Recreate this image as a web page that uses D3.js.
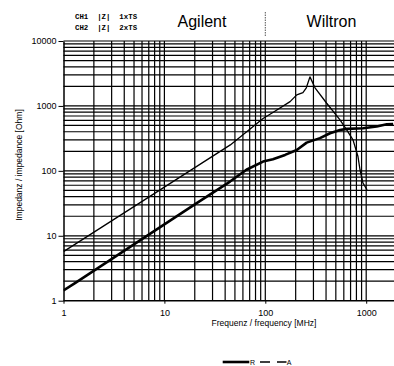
<!DOCTYPE html>
<html>
<head>
<meta charset="utf-8">
<script src="https://cdn.jsdelivr.net/npm/d3@7"></script>
<style>
  body { margin: 0; background: #fff; }
  svg { display: block; font-family: "Liberation Sans", Arial, sans-serif; }
</style>
</head>
<body>
<svg id="chart" width="394" height="366"></svg>
<script>
// ---- data ----
const xTicks = [1, 10, 100, 1000];
const yTicks = [1, 10, 100, 1000, 10000];
const headerLines = ["CH1  |Z|  1xTS", "CH2  |Z|  2xTS"];
const regionLabels = ["Agilent", "Wiltron"];
const seriesNames = ["R", "A"];

const freqR = [1, 1.3, 20.9, 44.7, 65, 95, 119, 157, 205, 257, 348, 438, 550, 641, 929, 1270, 1600, 1850];
const zR    = [1.44, 1.87, 31.8, 68.4, 104, 139, 151, 176, 210, 272, 319, 380, 427, 443, 453, 481, 523, 528];

const freqA = [1, 6.4, 45, 95, 120, 176, 205, 236, 255, 277, 311, 406, 550, 641, 740, 829, 868, 929, 1020];
const zA    = [5.7, 36, 251, 640, 800, 1165, 1480, 1600, 1900, 2800, 1900, 1100, 610, 427, 300, 166, 104, 65, 51];

// ---- layout ----
const W = 394, H = 366;
const mLeft = 63.5, mTop = 41, mBottom = 300.7;
const decadeX = 100.9;
const x = d3.scaleLog().domain([1, 2000]).range([mLeft, mLeft + decadeX * Math.log10(2000)]);
const y = d3.scaleLog().domain([1, 10000]).range([mBottom, mTop]);

const svg = d3.select("#chart");

svg.append("defs").append("clipPath").attr("id", "clip")
  .append("rect").attr("x", mLeft).attr("y", mTop).attr("width", W - mLeft).attr("height", mBottom - mTop);

// grid values
const vGrid = [];
for (let k = 0; k < 3; k++) for (let m = 2; m <= 10; m++) vGrid.push(m * Math.pow(10, k));
const hGrid = [];
for (let k = 0; k < 4; k++) for (let m = 2; m <= 10; m++) hGrid.push(m * Math.pow(10, k));

const grid = svg.append("g").attr("stroke", "#000").attr("stroke-width", 1.2);
grid.selectAll("line.h").data(hGrid).join("line")
  .attr("x1", mLeft).attr("x2", W)
  .attr("y1", d => y(d)).attr("y2", d => y(d));
grid.selectAll("line.v").data(vGrid).join("line")
  .attr("x1", d => x(d)).attr("x2", d => x(d))
  .attr("y1", mTop).attr("y2", mBottom);

// axes
const gx = svg.append("g").attr("transform", `translate(0,${mBottom})`)
  .call(d3.axisBottom(x).tickValues(xTicks).tickFormat(d3.format("d")).tickSize(3).tickSizeOuter(0).tickPadding(6));
const gy = svg.append("g").attr("transform", `translate(${mLeft},0)`)
  .call(d3.axisLeft(y).tickValues(yTicks).tickFormat(d3.format("d")).tickSize(5).tickSizeOuter(0).tickPadding(2));
[gx, gy].forEach(g => {
  g.attr("font-family", null);
  g.selectAll("path.domain").attr("stroke", "#000").attr("stroke-width", 1.5);
  g.selectAll(".tick line").attr("stroke", "#000").attr("stroke-width", 1);
  g.selectAll("text").attr("fill", "#000")
    .style("font-size", "9px").style("font-family", "'Liberation Sans', Arial, sans-serif");
});
gx.select("path.domain").attr("d", `M${mLeft},0H${W}`);

// lines
const line = d3.line().x(d => x(d[0])).y(d => y(d[1]));
const dataR = freqR.map((f, i) => [f, zR[i]]);
const dataA = freqA.map((f, i) => [f, zA[i]]);
const plot = svg.append("g").attr("clip-path", "url(#clip)");
plot.append("path").datum(dataA).attr("d", line)
  .attr("fill", "none").attr("stroke", "#000").attr("stroke-width", 1.3).attr("stroke-linejoin", "round");
plot.append("path").datum(dataR).attr("d", line)
  .attr("fill", "none").attr("stroke", "#000").attr("stroke-width", 2.6).attr("stroke-linejoin", "round");

// axis titles
svg.append("text").attr("x", 264).attr("y", 326).attr("text-anchor", "middle")
  .style("font-size", "8.5px").text("Frequenz / frequency [MHz]");
svg.append("text").attr("transform", `translate(22,165) rotate(-90)`).attr("text-anchor", "middle")
  .style("font-size", "8.5px").text("Impedanz / impedance [Ohm]");

// header
svg.selectAll("text.hdr").data(headerLines).join("text")
  .attr("x", 75).attr("y", (d, i) => 18.5 + i * 11)
  .style("font-family", "'Liberation Mono', 'Courier New', monospace")
  .style("font-weight", "bold").style("font-size", "7.4px")
  .style("white-space", "pre")
  .text(d => d);

svg.append("text").attr("x", 202).attr("y", 27).attr("text-anchor", "middle")
  .style("font-size", "16px").text(regionLabels[0]);
svg.append("text").attr("x", 331.5).attr("y", 27).attr("text-anchor", "middle")
  .style("font-size", "16px").text(regionLabels[1]);
svg.append("line").attr("x1", x(100)).attr("x2", x(100)).attr("y1", 12).attr("y2", 37)
  .attr("stroke", "#555").attr("stroke-width", 1).attr("stroke-dasharray", "1.5,1");

// legend
const lg = svg.append("g");
lg.append("line").attr("x1", 222.7).attr("x2", 249.3).attr("y1", 362).attr("y2", 362)
  .attr("stroke", "#000").attr("stroke-width", 2.6);
lg.append("text").attr("x", 250).attr("y", 364.5).style("font-size", "7px").text(seriesNames[0]);
lg.append("line").attr("x1", 260).attr("x2", 286.5).attr("y1", 362).attr("y2", 362)
  .attr("stroke", "#000").attr("stroke-width", 1.3).attr("stroke-dasharray", "10,7");
lg.append("text").attr("x", 286.7).attr("y", 364.5).style("font-size", "7px").text(seriesNames[1]);
</script>
</body>
</html>
